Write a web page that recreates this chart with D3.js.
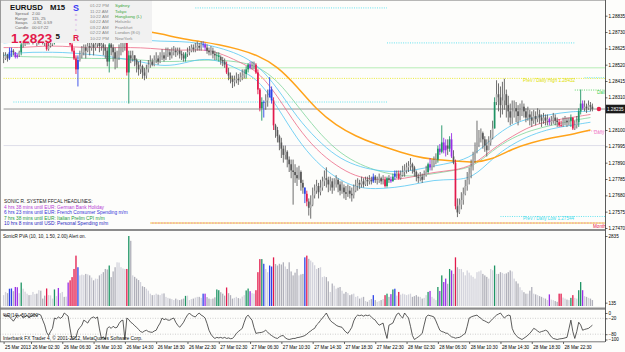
<!DOCTYPE html>
<html lang="en">
<head>
  <meta charset='utf-8'>
  <title>EURUSD M15 - Sonic R. System</title>
  <style>
    html, body { margin:0; padding:0; background:#ffffff; }
    svg { display:block; background-color:#fdfdfb; font-family:"Liberation Sans", Arial, sans-serif; }
    .axis text { font-size:4.6px; fill:#000; }
    .axis line { stroke:#000; stroke-width:0.6; }
    .axis .domain { display:none; }
  </style>
</head>
<body>

  <div id="chart"></div>

<script src="https://d3js.org/d3.v7.min.js"></script>
<script>

  ////////////////////////////////////////////////// DATA (EURUSD M15, 25 - 28 Mar 2013)

  // one entry per M15 bar, open of a bar = close of the previous one
  var highs = [
    1.2860,1.2860,1.2859,1.2863,1.2863,1.2862,1.2860,1.2859,1.2861,1.2867,
    1.2868,1.2869,1.2870,1.2870,1.2872,1.2871,1.2872,1.2872,1.2873,1.2871,
    1.2870,1.2869,1.2869,1.2866,1.2868,1.2869,1.2872,1.2872,1.2871,1.2871,
    1.2872,1.2872,1.2873,1.2872,1.2870,1.2867,1.2863,1.2858,1.2858,1.2861,
    1.2864,1.2865,1.2865,1.2867,1.2867,1.2868,1.2866,1.2867,1.2869,1.2867,
    1.2868,1.2867,1.2865,1.2863,1.2866,1.2867,1.2865,1.2863,1.2861,1.2865,
    1.2866,1.2868,1.2869,1.2868,1.2861,1.2861,1.2861,1.2858,1.2856,1.2854,
    1.2855,1.2852,1.2850,1.2852,1.2855,1.2858,1.2856,1.2858,1.2860,1.2858,
    1.2860,1.2862,1.2860,1.2863,1.2863,1.2862,1.2863,1.2864,1.2863,1.2863,
    1.2863,1.2861,1.2860,1.2860,1.2863,1.2864,1.2865,1.2865,1.2866,1.2867,
    1.2866,1.2867,1.2867,1.2866,1.2865,1.2863,1.2864,1.2863,1.2861,1.2860,
    1.2860,1.2858,1.2857,1.2856,1.2854,1.2850,1.2847,1.2845,1.2845,1.2847,
    1.2846,1.2847,1.2849,1.2849,1.2851,1.2853,1.2854,1.2854,1.2854,1.2853,
    1.2849,1.2837,1.2831,1.2829,1.2833,1.2836,1.2844,1.2838,1.2831,1.2814,
    1.2812,1.2807,1.2805,1.2800,1.2800,1.2797,1.2793,1.2791,1.2791,1.2788,
    1.2786,1.2787,1.2784,1.2778,1.2771,1.2771,1.2766,1.2768,1.2773,1.2775,
    1.2778,1.2776,1.2778,1.2780,1.2784,1.2786,1.2780,1.2780,1.2779,1.2779,
    1.2781,1.2779,1.2777,1.2777,1.2775,1.2774,1.2775,1.2774,1.2773,1.2775,
    1.2778,1.2779,1.2778,1.2780,1.2779,1.2780,1.2780,1.2781,1.2780,1.2782,
    1.2781,1.2780,1.2782,1.2780,1.2781,1.2780,1.2780,1.2781,1.2780,1.2782,
    1.2784,1.2784,1.2784,1.2784,1.2787,1.2788,1.2789,1.2790,1.2792,1.2789,
    1.2787,1.2784,1.2782,1.2783,1.2782,1.2784,1.2787,1.2789,1.2792,1.2791,
    1.2793,1.2795,1.2800,1.2801,1.2813,1.2805,1.2804,1.2804,1.2806,1.2808,
    1.2797,1.2791,1.2766,1.2766,1.2770,1.2773,1.2778,1.2783,1.2786,1.2791,
    1.2796,1.2802,1.2816,1.2810,1.2811,1.2809,1.2806,1.2804,1.2806,1.2810,
    1.2816,1.2831,1.2842,1.2840,1.2838,1.2841,1.2843,1.2836,1.2832,1.2827,
    1.2829,1.2829,1.2828,1.2826,1.2827,1.2829,1.2827,1.2824,1.2825,1.2823,
    1.2822,1.2823,1.2822,1.2824,1.2823,1.2820,1.2821,1.2820,1.2820,1.2818,
    1.2819,1.2821,1.2820,1.2818,1.2817,1.2816,1.2818,1.2819,1.2818,1.2818,
    1.2820,1.2816,1.2816,1.2819,1.2824,1.2836,1.2829,1.2829,1.2827,1.2829,
    1.2828,1.2827
  ];

  var lows = [
    1.2853,1.2855,1.2854,1.2855,1.2857,1.2858,1.2856,1.2856,1.2857,1.2858,
    1.2863,1.2864,1.2865,1.2865,1.2866,1.2865,1.2867,1.2864,1.2865,1.2866,
    1.2865,1.2864,1.2861,1.2861,1.2863,1.2864,1.2865,1.2867,1.2866,1.2866,
    1.2867,1.2867,1.2868,1.2867,1.2864,1.2860,1.2855,1.2846,1.2838,1.2854,
    1.2856,1.2858,1.2856,1.2860,1.2858,1.2861,1.2858,1.2861,1.2863,1.2860,
    1.2861,1.2858,1.2856,1.2851,1.2847,1.2858,1.2854,1.2849,1.2850,1.2855,
    1.2858,1.2860,1.2861,1.2845,1.2827,1.2853,1.2854,1.2851,1.2847,1.2845,
    1.2846,1.2843,1.2842,1.2843,1.2847,1.2850,1.2851,1.2851,1.2853,1.2852,
    1.2853,1.2855,1.2854,1.2855,1.2857,1.2855,1.2856,1.2858,1.2857,1.2858,
    1.2856,1.2855,1.2854,1.2854,1.2857,1.2858,1.2860,1.2860,1.2860,1.2861,
    1.2861,1.2861,1.2863,1.2861,1.2859,1.2858,1.2858,1.2856,1.2855,1.2855,
    1.2854,1.2852,1.2851,1.2850,1.2846,1.2842,1.2840,1.2837,1.2838,1.2840,
    1.2839,1.2841,1.2842,1.2843,1.2843,1.2847,1.2849,1.2849,1.2849,1.2846,
    1.2833,1.2822,1.2816,1.2818,1.2823,1.2825,1.2832,1.2827,1.2810,1.2805,
    1.2802,1.2797,1.2792,1.2789,1.2791,1.2786,1.2783,1.2779,1.2762,1.2776,
    1.2774,1.2778,1.2771,1.2769,1.2763,1.2761,1.2755,1.2753,1.2761,1.2766,
    1.2769,1.2766,1.2768,1.2771,1.2774,1.2773,1.2770,1.2771,1.2769,1.2771,
    1.2773,1.2770,1.2768,1.2769,1.2766,1.2765,1.2767,1.2766,1.2764,1.2766,
    1.2770,1.2771,1.2772,1.2773,1.2773,1.2774,1.2774,1.2775,1.2775,1.2776,
    1.2776,1.2775,1.2776,1.2775,1.2775,1.2773,1.2773,1.2776,1.2776,1.2777,
    1.2778,1.2779,1.2778,1.2778,1.2780,1.2780,1.2782,1.2783,1.2784,1.2782,
    1.2780,1.2777,1.2776,1.2777,1.2776,1.2778,1.2780,1.2782,1.2784,1.2784,
    1.2786,1.2788,1.2789,1.2794,1.2795,1.2795,1.2793,1.2794,1.2796,1.2792,
    1.2788,1.2759,1.2754,1.2756,1.2759,1.2762,1.2768,1.2771,1.2775,1.2779,
    1.2784,1.2789,1.2795,1.2799,1.2802,1.2798,1.2796,1.2793,1.2797,1.2800,
    1.2804,1.2811,1.2826,1.2822,1.2818,1.2820,1.2823,1.2818,1.2815,1.2813,
    1.2814,1.2818,1.2815,1.2813,1.2816,1.2819,1.2818,1.2815,1.2816,1.2813,
    1.2812,1.2814,1.2813,1.2815,1.2814,1.2812,1.2814,1.2813,1.2813,1.2813,
    1.2813,1.2814,1.2813,1.2812,1.2812,1.2812,1.2812,1.2813,1.2812,1.2813,
    1.2812,1.2810,1.2810,1.2811,1.2812,1.2820,1.2823,1.2822,1.2821,1.2823,
    1.2822,1.2822
  ];

  var closes = [
    1.2856,1.2858,1.2856,1.2860,1.2861,1.2860,1.2857,1.2858,1.2860,1.2865,
    1.2865,1.2867,1.2868,1.2867,1.2869,1.2869,1.2870,1.2869,1.2870,1.2869,
    1.2868,1.2867,1.2862,1.2864,1.2865,1.2867,1.2870,1.2870,1.2867,1.2869,
    1.2870,1.2869,1.2870,1.2868,1.2865,1.2861,1.2856,1.2849,1.2855,1.2858,
    1.2860,1.2863,1.2861,1.2864,1.2863,1.2865,1.2863,1.2865,1.2866,1.2864,
    1.2865,1.2863,1.2861,1.2854,1.2865,1.2863,1.2860,1.2856,1.2858,1.2861,
    1.2863,1.2865,1.2866,1.2847,1.2858,1.2856,1.2858,1.2855,1.2852,1.2849,
    1.2851,1.2847,1.2845,1.2849,1.2852,1.2854,1.2852,1.2855,1.2856,1.2854,
    1.2857,1.2858,1.2856,1.2859,1.2860,1.2858,1.2860,1.2861,1.2860,1.2861,
    1.2859,1.2858,1.2856,1.2859,1.2860,1.2861,1.2863,1.2862,1.2863,1.2864,
    1.2863,1.2865,1.2865,1.2863,1.2861,1.2860,1.2861,1.2859,1.2858,1.2858,
    1.2857,1.2855,1.2854,1.2852,1.2847,1.2845,1.2843,1.2841,1.2842,1.2843,
    1.2842,1.2844,1.2845,1.2846,1.2849,1.2852,1.2850,1.2851,1.2852,1.2847,
    1.2836,1.2824,1.2828,1.2828,1.2829,1.2831,1.2836,1.2829,1.2813,1.2810,
    1.2806,1.2802,1.2798,1.2794,1.2796,1.2791,1.2788,1.2784,1.2783,1.2781,
    1.2779,1.2783,1.2776,1.2773,1.2769,1.2764,1.2760,1.2762,1.2768,1.2771,
    1.2774,1.2770,1.2773,1.2777,1.2779,1.2778,1.2775,1.2777,1.2773,1.2775,
    1.2778,1.2775,1.2771,1.2773,1.2770,1.2769,1.2771,1.2769,1.2768,1.2771,
    1.2774,1.2776,1.2775,1.2777,1.2775,1.2778,1.2777,1.2778,1.2777,1.2780,
    1.2778,1.2778,1.2779,1.2777,1.2778,1.2774,1.2779,1.2778,1.2777,1.2780,
    1.2782,1.2782,1.2779,1.2781,1.2783,1.2784,1.2786,1.2787,1.2788,1.2786,
    1.2783,1.2780,1.2779,1.2780,1.2778,1.2781,1.2783,1.2788,1.2786,1.2787,
    1.2789,1.2791,1.2798,1.2796,1.2802,1.2797,1.2800,1.2798,1.2804,1.2793,
    1.2789,1.2761,1.2757,1.2762,1.2765,1.2769,1.2774,1.2778,1.2782,1.2786,
    1.2791,1.2797,1.2802,1.2805,1.2808,1.2804,1.2800,1.2797,1.2802,1.2805,
    1.2811,1.2828,1.2833,1.2831,1.2826,1.2829,1.2833,1.2826,1.2822,1.2818,
    1.2822,1.2824,1.2822,1.2819,1.2823,1.2825,1.2822,1.2818,1.2820,1.2818,
    1.2816,1.2819,1.2817,1.2820,1.2818,1.2816,1.2818,1.2816,1.2817,1.2815,
    1.2816,1.2818,1.2816,1.2815,1.2813,1.2813,1.2815,1.2816,1.2815,1.2816,
    1.2818,1.2811,1.2813,1.2815,1.2822,1.2827,1.2824,1.2825,1.2824,1.2826,
    1.2825,1.28235
  ];

  // tick volume per bar (SonicR PVA pane)
  var volumes = [
    440,570,520,700,710,600,770,760,520,950,
    700,580,500,440,450,570,480,500,640,620,
    300,420,710,440,430,300,670,400,730,520,
    570,370,380,950,1040,1170,1500,2040,1570,1240,
    1270,1250,1300,1280,1240,1150,1040,1110,1100,1240,
    1300,1370,1500,1480,1640,1170,1400,1570,1770,1760,
    1570,1520,1500,1500,2835,2640,1240,1180,1110,1050,
    970,800,770,700,620,500,440,450,500,460,
    440,500,510,370,330,300,280,240,300,260,
    240,270,300,410,420,240,280,300,340,370,
    370,330,500,500,360,300,280,300,350,670,
    640,560,500,420,750,520,440,300,330,370,
    320,300,380,440,630,707,600,520,500,640,
    1370,1900,1900,1710,1500,1370,1640,1600,1970,1700,
    1640,1710,1680,1770,1600,1500,1770,1400,1240,1350,
    1500,1240,1280,1300,1970,2040,1910,1840,1770,1650,
    1500,1540,1570,1170,1200,1170,1000,570,910,820,
    700,740,770,620,500,570,520,440,470,500,
    370,400,300,340,370,200,170,240,280,440,
    240,170,200,240,280,440,500,370,480,670,
    700,420,570,460,500,470,440,470,500,370,
    400,440,380,370,300,330,440,570,610,370,
    300,240,770,610,1240,970,1110,900,1500,1440,
    1300,1970,1570,1500,1500,1370,1240,1440,1350,1240,
    1180,1110,1370,1400,1440,1300,1240,1180,1110,1500,
    1450,1640,1300,1300,1370,1340,1300,1320,1370,1440,
    1400,1110,1000,910,760,640,560,500,500,620,
    770,500,470,440,400,370,330,300,240,470,
    260,240,200,170,500,500,340,300,260,240,
    330,440,330,300,640,970,640,400,370,330,
    300,240
  ];

  // Williams %R(14)
  var wpr = [
    -8,-12,-10,-15,-22,-31,-20,-8,-12,-6,
    -19,-14,-8,-19,-12,-8,-6,-10,-4,-8,
    -27,-45,-73,-85,-70,-58,-19,-22,-15,-20,
    -15,0,-6,-12,-60,-100,-96,-92,-65,-55,
    -46,-27,-32,-38,-25,-18,-15,-20,-15,-60,
    -96,-90,-100,-58,-52,-58,-50,-56,-54,-40,
    -30,-27,-100,-19,-25,-35,-40,-48,-54,-62,
    -70,-73,-68,-65,-70,-72,-73,-68,-65,-50,
    -38,-19,-25,-22,-27,-27,-22,-19,-35,-46,
    -54,-45,-35,-20,-8,0,-8,-12,-15,-6,
    0,-8,-12,-19,-40,-65,-80,-90,-96,-92,
    -94,-92,-95,-92,-96,-94,-97,-96,-88,-77,
    -70,-64,-58,-35,-15,-8,-18,-27,-55,-77,
    -75,-74,-73,-70,-65,-72,-80,-85,-90,-94,
    -96,-90,-86,-85,-94,-98,-100,-98,-96,-96,
    -93,-92,-90,-88,-85,-80,-73,-68,-62,-58,
    -45,-38,-28,-19,-10,0,-15,-28,-35,-40,
    -46,-50,-52,-54,-64,-72,-77,-66,-54,-30,
    -15,-8,-10,-8,-12,-8,-10,-8,-15,-22,
    -27,-38,-46,-42,-38,-70,-96,-46,-42,-38,
    -20,-5,0,-12,-19,0,-10,-19,-50,-85,
    -100,-95,-90,-84,-77,-45,-15,-8,-10,-12,
    -15,-30,-48,-65,-70,-72,-76,-77,-84,-90,
    -92,-95,-93,-92,-88,-82,-77,-50,-19,-15,
    -12,-10,-8,-15,-20,-27,-30,-34,-38,-30,
    -22,-15,-8,-4,0,-10,-19,-12,-8,-10,
    -58,-75,-85,-92,-96,-100,-95,-90,-84,-77,
    -68,-58,-62,-68,-73,-70,-68,-65,-68,-80,
    -90,-96,-98,-100,-98,-97,-96,-94,-92,-60,
    -27,-70,-96,-70,-35,-45,-65,-62,-60,-58,
    -52,-46
  ];

  // PVA highlighted bars (bar indexes)
  var pvaRed    = [22,34,35,36,37,63,114,129,130,131,138,155,195,202,231,284,285,291];
  var pvaGreen  = [9,26,54,64,93,109,110,124,125,132,196,199,217,222,224,228,251,290,294,295];
  var pvaBlue   = [3,4,38,102,133,136,137,154,189,200];
  var pvaViolet = [6,7,28,33,103,126,198,218,223,225,226,229,279,296];

  // moving averages, read every 10th bar
  var maStep = 10;
  var dragonHigh = [1.2866,1.2867,1.2867,1.2867,1.2867,1.2868,1.2868,1.2868,1.2867,1.2867,1.2866,1.2863,1.2859,1.2852,1.2837,1.2818,1.2804,1.2793,1.2787,1.2784,1.2783,1.2784,1.2787,1.2789,1.2793,1.2805,1.2814,1.2818,1.2820,1.2822,1.2822];
  var dragonMid  = [1.2863,1.2863,1.2864,1.2864,1.2863,1.2863,1.2863,1.2863,1.2862,1.2861,1.2862,1.2860,1.2854,1.2848,1.2832,1.2812,1.2797,1.2787,1.2780,1.2778,1.2778,1.2780,1.2783,1.2784,1.2787,1.2798,1.2806,1.2813,1.2816,1.2818,1.2820];
  var dragonLow  = [1.2858,1.2860,1.2860,1.2860,1.2859,1.2858,1.2856,1.2854,1.2851,1.2852,1.2856,1.2855,1.2849,1.2843,1.2825,1.2804,1.2789,1.2779,1.2773,1.2772,1.2773,1.2775,1.2778,1.2778,1.2779,1.2792,1.2801,1.2807,1.2811,1.2813,1.2815];
  var ema89      = [1.2858,1.2857,1.2857,1.2857,1.2856,1.2856,1.2856,1.2855,1.2854,1.2854,1.2855,1.2855,1.2854,1.2851,1.2842,1.2826,1.2810,1.2797,1.2789,1.2784,1.2781,1.2780,1.2782,1.2784,1.2786,1.2797,1.2805,1.2810,1.2813,1.2816,1.2818];
  var ema200     = [1.2879,1.2878,1.2878,1.2877,1.2876,1.2876,1.2875,1.2874,1.2872,1.2869,1.2867,1.2865,1.2862,1.2858,1.2851,1.2838,1.2823,1.2813,1.2806,1.2801,1.2797,1.2793,1.2791,1.2790,1.2789,1.2791,1.2798,1.2802,1.2805,1.2807,1.2810];

  // horizontal levels (pivots, round number, prev day / month)
  var levelPrices = [1.28885, 1.28660, 1.28500, 1.28432, 1.28436, 1.28357, 1.28280, 1.28000, 1.28094, 1.27544, 1.27502];
  var levelFrom   = [98, 196, 0, 0, 297, 292, 5, 0, 298, 254, 75];
  var levelTo     = [196, 292, 308, 308, 308, 308, 196, 308, 308, 308, 308];

  // scale labels
  var priceTicks = [1.28835, 1.28730, 1.28625, 1.28520, 1.28415, 1.28310, 1.28100, 1.27995, 1.27890, 1.27785, 1.27680, 1.27575, 1.27470];
  var volTicks = [2835, 135];
  var wprTicks = [0, -20, -80, -100];
  var timeBars = [0,14,30,46,62,78,94,110,126,142,158,174,190,206,222,238,254,270,286];
  var timeLabels = ["25 Mar 2013","26 Mar 02:30","26 Mar 06:30","26 Mar 10:30","26 Mar 14:30","26 Mar 18:30","26 Mar 22:30",
                    "27 Mar 02:30","27 Mar 06:30","27 Mar 10:30","27 Mar 14:30","27 Mar 18:30","27 Mar 22:30",
                    "28 Mar 02:30","28 Mar 06:30","28 Mar 10:30","28 Mar 14:30","28 Mar 18:30","28 Mar 22:30"];

  // info panel texts
  var statLabels = ["Spread", "Range", "Swaps", "Candle"];
  var statValues = ["2.00", "115, 25", "-0.92, 0.59", "00:07:22"];
  var sessionTimes  = ["01:22 PM","11:22 AM","10:22 AM","04:22 AM","03:22 AM","02:22 AM","10:22 PM"];
  var sessionCities = ["Sydney","Tokyo","Hongkong (L)","Helsinki","Frankfurt","London (8:0)","NewYork"];
  var headlines = ["SONIC R. SYSTEM  FFCAL HEADLINES:",
                   "4 hrs 38 mins until EUR: German Bank Holiday",
                   "6 hrs 23 mins until EUR: French Consumer Spending m/m",
                   "7 hrs 38 mins until EUR: Italian Prelim CPI m/m",
                   "10 hrs 8 mins until USD: Personal Spending m/m"];

  ////////////////////////////////////////////////// INIT VARS

  var width = 625, height = 352;
  var plotRight = 605;
  var N = closes.length;

  var x = d3.scaleLinear().domain([0, N - 1]).range([3.6, 592.4]);
  var yPrice = d3.scaleLinear().domain([1.27470, 1.28835]).range([228, 15.7]);
  var yVol = d3.scaleLinear().domain([0, 2835]).range([306, 236]);
  var yWpr = d3.scaleLinear().domain([-100, 0]).range([339.5, 313]);

  var pvaColor = {red:"#e3194b", green:"#1e9464", blue:"#2f45e8", violet:"#9a2fe6"};
  var pvaOf = new Array(N).fill(null);
  pvaRed.forEach(function(i){ pvaOf[i] = "red"; });
  pvaGreen.forEach(function(i){ pvaOf[i] = "green"; });
  pvaBlue.forEach(function(i){ pvaOf[i] = "blue"; });
  pvaViolet.forEach(function(i){ pvaOf[i] = "violet"; });

  var bars = closes.map(function(c, i){
    var o = i > 0 ? closes[i-1] : c;
    return {i:i, o:o, c:c, h:Math.max(highs[i], o, c), l:Math.min(lows[i], o, c),
            v:volumes[i], pva:pvaOf[i], up:c >= o};
  });

  ////////////////////////////////////////////////// SETUP

  var svg = d3.select("#chart").append("svg")
              .attr("width", width)
              .attr("height", height);

  var defs = svg.append("defs");
  defs.append("clipPath").attr("id","clipMain").append("rect").attr("x",0).attr("y",0).attr("width",plotRight).attr("height",229);
  defs.append("clipPath").attr("id","clipVol").append("rect").attr("x",0).attr("y",231).attr("width",plotRight).attr("height",76);
  defs.append("clipPath").attr("id","clipWpr").append("rect").attr("x",0).attr("y",310).attr("width",plotRight).attr("height",31.5);

  ////////////////////////////////////////////////// MAIN PANE

  var gMain = svg.append("g").attr("clip-path","url(#clipMain)");

  // levels
  var levelStyle = [
    {stroke:"#3fdcec", dash:"1,1.3", w:0.8},
    {stroke:"#3fdcec", dash:"1,1.3", w:0.8},
    {stroke:"#a6eaa6", dash:null,    w:0.8},
    {stroke:"#e6e600", dash:"1,1.3", w:0.8},
    {stroke:"#3fdcec", dash:"1,1.3", w:0.8},
    {stroke:"#3ccf4c", dash:"1,1.3", w:0.8},
    {stroke:"#3fdcec", dash:"1,1.3", w:0.8},
    {stroke:"#d6d6e4", dash:null,    w:0.8},
    {stroke:"#f078c8", dash:"1,1.3", w:0.8},
    {stroke:"#3fdcec", dash:"1,1.3", w:0.8},
    {stroke:"#ff9a1a", dash:"1,2",   w:0.9}
  ];

  gMain.selectAll(".level").data(levelPrices).enter().append("line")
    .attr("class","level")
    .attr("x1", function(d,k){ return x(levelFrom[k]); })
    .attr("x2", function(d,k){ return x(levelTo[k]); })
    .attr("y1", function(d){ return yPrice(d); })
    .attr("y2", function(d){ return yPrice(d); })
    .attr("stroke", function(d,k){ return levelStyle[k].stroke; })
    .attr("stroke-width", function(d,k){ return levelStyle[k].w; })
    .attr("stroke-dasharray", function(d,k){ return levelStyle[k].dash; });

  // monthly low is drawn as a multi coloured dotted line
  ["#e83030", "#e0d000"].forEach(function(col, k){
    gMain.append("line")
      .attr("x1", x(levelFrom[10])).attr("x2", x(levelTo[10]))
      .attr("y1", yPrice(levelPrices[10])).attr("y2", yPrice(levelPrices[10]))
      .attr("stroke", col).attr("stroke-width", 0.9)
      .attr("stroke-dasharray","1,2").attr("stroke-dashoffset", k + 1);
  });

  // current price line
  gMain.append("line")
    .attr("x1", x(0)).attr("x2", x(308))
    .attr("y1", yPrice(closes[N-1])).attr("y2", yPrice(closes[N-1]))
    .attr("stroke","#7a7a7a").attr("stroke-width",0.8);

  // moving averages
  var maLine = d3.line()
    .x(function(d,k){ return x(k * maStep); })
    .y(function(d){ return yPrice(d); })
    .curve(d3.curveBasis);

  gMain.append("path").datum(ema89).attr("d", maLine).attr("fill","none").attr("stroke","#7fd49a").attr("stroke-width",0.8);
  gMain.append("path").datum(dragonHigh).attr("d", maLine).attr("fill","none").attr("stroke","#55c6f2").attr("stroke-width",0.8);
  gMain.append("path").datum(dragonLow).attr("d", maLine).attr("fill","none").attr("stroke","#55c6f2").attr("stroke-width",0.8);
  gMain.append("path").datum(dragonMid).attr("d", maLine).attr("fill","none").attr("stroke","#ec6a86").attr("stroke-width",0.8);
  gMain.append("path").datum(ema200).attr("d", maLine).attr("fill","none").attr("stroke","#ffa31a").attr("stroke-width",1.5);

  // candles
  gMain.selectAll(".wick").data(bars).enter().append("line")
    .attr("class","wick")
    .attr("x1", function(d){ return x(d.i); })
    .attr("x2", function(d){ return x(d.i); })
    .attr("y1", function(d){ return yPrice(d.h); })
    .attr("y2", function(d){ return yPrice(d.l); })
    .attr("stroke", function(d){ return d.pva ? pvaColor[d.pva] : "#5e5e5e"; })
    .attr("stroke-width", 0.9);

  gMain.selectAll(".body").data(bars).enter().append("rect")
    .attr("class","body")
    .attr("x", function(d){ return x(d.i) - 0.85; })
    .attr("width", 1.7)
    .attr("y", function(d){ return yPrice(Math.max(d.o, d.c)); })
    .attr("height", function(d){ return Math.max(0.7, Math.abs(yPrice(d.o) - yPrice(d.c))); })
    .attr("fill", function(d){ return d.pva ? pvaColor[d.pva] : (d.up ? "#adadad" : "#585858"); });

  // level captions
  var capStyle = "font-size:4.6px";
  gMain.append("text").attr("x", 523).attr("y", yPrice(levelPrices[3]) + 3.6)
    .attr("fill","#e0e000").attr("style",capStyle)
    .text("Prev / Daily High " + d3.format(".5f")(levelPrices[3]));
  gMain.append("text").attr("x", 523).attr("y", yPrice(levelPrices[9]) + 4)
    .attr("fill","#3fdcec").attr("style",capStyle)
    .text("Prev / Daily Low " + d3.format(".5f")(levelPrices[9]));
  gMain.append("text").attr("x", 597).attr("y", yPrice(levelPrices[5]) + 3.6)
    .attr("fill","#3ccf4c").attr("style",capStyle).text("Daily");

  svg.append("text").attr("x", 594).attr("y", yPrice(levelPrices[8]) + 3.4)
    .attr("fill","#f078c8").attr("style",capStyle).text("Daily");
  svg.append("text").attr("x", 593).attr("y", yPrice(levelPrices[10]) + 5.3)
    .attr("fill","#e8204a").attr("style",capStyle).text("Month");

  // last bar marker
  svg.append("circle")
    .attr("cx", x(N-1) + 6.5).attr("cy", yPrice(closes[N-1]))
    .attr("r", 2.2).attr("fill","#e8204a");

  // headlines
  svg.selectAll(".headline").data(headlines).enter().append("text")
    .attr("class","headline")
    .attr("x", 4)
    .attr("y", function(d,k){ return 203 + k * 5.5; })
    .attr("style","font-size:4.8px")
    .attr("fill", function(d,k){ return ["#222222","#b43ad6","#3434d8","#1f9a3c","#2626c0"][k]; })
    .text(function(d){ return d; });

  ////////////////////////////////////////////////// INFO PANEL

  var info = svg.append("g");
  info.append("rect").attr("x",0).attr("y",0).attr("width",152).attr("height",43).attr("fill","#f1f1f1");

  info.append("text").attr("x",10).attr("y",10).attr("style","font-size:7.8px;font-weight:bold").attr("fill","#111").text("EURUSD");
  info.append("text").attr("x",50).attr("y",10).attr("style","font-size:7.8px;font-weight:bold").attr("fill","#111").text("M15");

  info.selectAll(".statL").data(statLabels).enter().append("text")
    .attr("x",15).attr("y",function(d,k){ return 15 + k * 4.5; })
    .attr("style","font-size:4.2px").attr("fill","#6a6a6a").text(function(d){ return d; });
  info.selectAll(".statV").data(statValues).enter().append("text")
    .attr("x",32).attr("y",function(d,k){ return 15 + k * 4.5; })
    .attr("style","font-size:4.2px").attr("fill","#6a6a6a").text(function(d){ return d; });

  info.append("text").attr("x",11).attr("y",42.5).attr("style","font-size:13.5px;font-weight:bold")
    .attr("fill","#e3194b").text(String(closes[N-1]).slice(0,6));
  info.append("text").attr("x",55.5).attr("y",38.5).attr("style","font-size:8px;font-weight:bold")
    .attr("fill","#111").text(String(closes[N-1]).slice(6));

  info.append("text").attr("x",76).attr("y",10.5).attr("text-anchor","middle")
    .attr("style","font-size:9px;font-weight:bold").attr("fill","#3b3bf5").text("S");
  ["o","n","i","c"].forEach(function(ch, k){
    info.append("text").attr("x",76).attr("y",16 + k * 5).attr("text-anchor","middle")
      .attr("style","font-size:4.4px").attr("fill","#c68ae0").text(ch);
  });
  info.append("text").attr("x",76).attr("y",40.8).attr("text-anchor","middle")
    .attr("style","font-size:8.5px;font-weight:bold").attr("fill","#e3194b").text("R");

  info.selectAll(".sessT").data(sessionTimes).enter().append("text")
    .attr("x",90).attr("y",function(d,k){ return 7.4 + k * 5.35; })
    .attr("style","font-size:4.4px").attr("fill","#8a8a8a").text(function(d){ return d; });
  info.selectAll(".sessC").data(sessionCities).enter().append("text")
    .attr("x",115).attr("y",function(d,k){ return 7.4 + k * 5.35; })
    .attr("style","font-size:4.4px")
    .attr("fill",function(d,k){ return k < 3 ? "#3aa63a" : "#8a8a8a"; })
    .text(function(d){ return d; });

  ////////////////////////////////////////////////// VOLUME PANE (SonicR PVA)

  var gVol = svg.append("g").attr("clip-path","url(#clipVol)");
  gVol.selectAll(".vol").data(bars).enter().append("rect")
    .attr("class","vol")
    .attr("x", function(d){ return x(d.i) - 0.65; })
    .attr("width", 1.3)
    .attr("y", function(d){ return yVol(d.v); })
    .attr("height", function(d){ return yVol(0) - yVol(d.v); })
    .attr("fill", function(d){ return d.pva ? pvaColor[d.pva] : (d.up ? "#d3d3dc" : "#b0b0ba"); });

  svg.append("text").attr("x",3).attr("y",238).attr("style","font-size:4.6px").attr("fill","#111")
    .text("SonicR PVA   (10, 10, 1.50, 2.00)   Alert on.");

  ////////////////////////////////////////////////// WPR PANE

  var gWpr = svg.append("g").attr("clip-path","url(#clipWpr)");
  [-20, -80].forEach(function(v){
    gWpr.append("line").attr("x1",0).attr("x2",plotRight)
      .attr("y1",yWpr(v)).attr("y2",yWpr(v))
      .attr("stroke","#b0b0b0").attr("stroke-width",0.6).attr("stroke-dasharray","1,1.5");
  });
  gWpr.append("path").datum(wpr)
    .attr("d", d3.line().x(function(d,i){ return x(i); }).y(function(d){ return yWpr(d); }))
    .attr("fill","none").attr("stroke","#333").attr("stroke-width",0.8);

  svg.append("text").attr("x",3).attr("y",316.5).attr("style","font-size:4.6px").attr("fill","#111")
    .text("%R(14) -50.0000");
  svg.append("text").attr("x",3).attr("y",340.3).attr("style","font-size:4.8px").attr("fill","#111")
    .text("Interbank FX Trader 4, \u00a9 2001-2012, MetaQuotes Software Corp.");

  ////////////////////////////////////////////////// FRAMES

  svg.append("rect").attr("x",0).attr("y",229).attr("width",plotRight).attr("height",2).attr("fill","#8c8c8c");
  svg.append("rect").attr("x",0).attr("y",307.5).attr("width",plotRight).attr("height",2.2).attr("fill","#8c8c8c");
  svg.append("line").attr("x1",0).attr("x2",plotRight).attr("y1",341.8).attr("y2",341.8).attr("stroke","#555").attr("stroke-width",0.8);
  svg.append("line").attr("x1",0.4).attr("x2",0.4).attr("y1",0).attr("y2",342).attr("stroke","#777").attr("stroke-width",0.8);
  svg.append("line").attr("x1",0).attr("x2",plotRight).attr("y1",0.4).attr("y2",0.4).attr("stroke","#999").attr("stroke-width",0.8);
  svg.append("line").attr("x1",plotRight + 0.5).attr("x2",plotRight + 0.5).attr("y1",0).attr("y2",342).attr("stroke","#333").attr("stroke-width",0.8);

  ////////////////////////////////////////////////// AXES

  svg.append("g").attr("class","axis")
    .attr("transform","translate(" + (plotRight + 0.5) + ",0)")
    .call(d3.axisRight(yPrice).tickValues(priceTicks).tickFormat(d3.format(".5f")).tickSize(2).tickPadding(1));

  svg.append("g").attr("class","axis")
    .attr("transform","translate(" + (plotRight + 0.5) + ",0)")
    .call(d3.axisRight(yVol).tickValues(volTicks).tickFormat(d3.format("d")).tickSize(2).tickPadding(1));

  svg.append("g").attr("class","axis")
    .attr("transform","translate(" + (plotRight + 0.5) + ",0)")
    .call(d3.axisRight(yWpr).tickValues(wprTicks).tickFormat(d3.format("d")).tickSize(2).tickPadding(1));

  var timeAxis = svg.append("g").attr("class","axis")
    .attr("transform","translate(0,342)")
    .call(d3.axisBottom(x).tickValues(timeBars).tickFormat(function(d,k){ return timeLabels[k]; }).tickSize(2).tickPadding(1.5));
  timeAxis.selectAll("text").attr("text-anchor","start").attr("x",1);

  // current price tag on the scale
  svg.append("rect").attr("x",plotRight + 0.8).attr("y",yPrice(closes[N-1]) - 4.3)
    .attr("width",19.2).attr("height",8.6).attr("fill","#1b1b1b");
  svg.append("text").attr("x",plotRight + 2).attr("y",yPrice(closes[N-1]) + 1.7)
    .attr("style","font-size:4.6px").attr("fill","#fff").text(d3.format(".5f")(closes[N-1]));

</script>
</body>
</html>
